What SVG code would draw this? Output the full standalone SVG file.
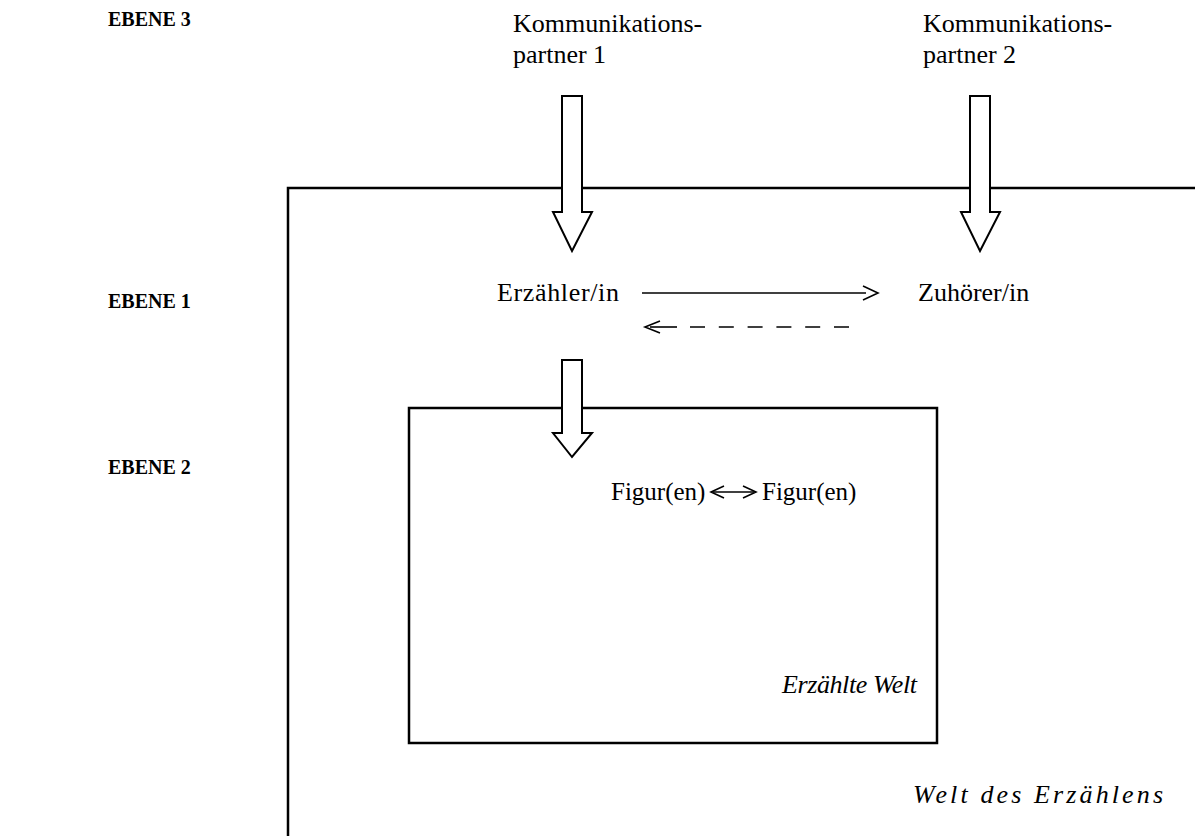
<svg xmlns="http://www.w3.org/2000/svg" width="1195" height="836" viewBox="0 0 1195 836">
<style>
.t{font-family:"Liberation Serif","Times New Roman",serif;font-size:26px;fill:#000}
.f{font-family:"Liberation Serif","Times New Roman",serif;font-size:25px;fill:#000}
.b{font-family:"Liberation Serif","Times New Roman",serif;font-size:20px;font-weight:bold;fill:#000}
.i{font-family:"Liberation Serif","Times New Roman",serif;font-size:26px;font-style:italic;fill:#000}
.frame{fill:none;stroke:#000;stroke-width:2.5}
.blk{fill:#fff;stroke:#000;stroke-width:2;stroke-linejoin:miter}
.ln{stroke:#000;stroke-width:1.6;fill:none}
</style>
<g id="labels">
<text class="b" x="108" y="26">EBENE 3</text>
<text class="b" x="108" y="308">EBENE 1</text>
<text class="b" x="108" y="474">EBENE 2</text>
</g>
<g id="welt-des-erzaehlens">
<path class="frame" d="M288,836 V188 H1195"/>
<text class="i" x="913" y="803" textLength="250" lengthAdjust="spacing">Welt des Erzählens</text>
</g>
<g id="erzaehlte-welt">
<rect class="frame" x="409" y="408" width="528" height="335"/>
<text class="i" x="782" y="693" textLength="135" lengthAdjust="spacing">Erzählte Welt</text>
</g>
<g id="partner1">
<text class="t" x="513" y="32">Kommunikations-</text>
<text class="t" x="513" y="63">partner 1</text>
</g>
<g id="partner2">
<text class="t" x="923" y="32">Kommunikations-</text>
<text class="t" x="923" y="63">partner 2</text>
</g>
<g id="erzaehler"><text class="t" x="497" y="301" textLength="122" lengthAdjust="spacing">Erzähler/in</text></g>
<g id="zuhoerer"><text class="t" x="918" y="301">Zuhörer/in</text></g>
<g id="figuren">
<text class="f" x="611" y="500">Figur(en)</text>
<text class="f" x="762" y="500">Figur(en)</text>
</g>
<g id="connectors">
<polygon class="blk" points="562,96 582,96 582,212 592,212 572,251 553,212 562,212"/>
<polygon class="blk" points="970,96 990,96 990,212 1000,212 980,251 961,212 970,212"/>
<polygon class="blk" points="562,360 582,360 582,433 592,433 572,457 553,433 562,433"/>
<line class="ln" x1="642" y1="293" x2="866" y2="293"/>
<path class="ln" d="M863,286 L878,293 L863,300"/>
<path class="ln" d="M660,321 L645,327 L660,333"/>
<line class="ln" x1="650" y1="327" x2="677" y2="327"/>
<line class="ln" x1="690" y1="327" x2="852" y2="327" stroke-dasharray="15,13.8"/>
<line class="ln" x1="713" y1="492" x2="754" y2="492"/>
<path class="ln" d="M724,486 L711,492 L724,498"/>
<path class="ln" d="M743,486 L756,492 L743,498"/>
</g>
</svg>
